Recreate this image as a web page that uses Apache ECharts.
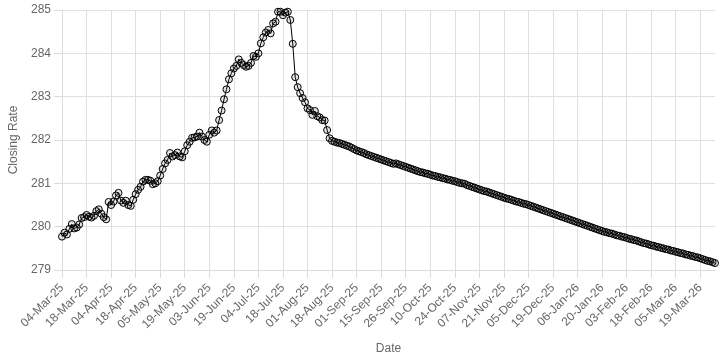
<!DOCTYPE html>
<html>
<head>
<meta charset="utf-8">
<script src="https://cdn.jsdelivr.net/npm/echarts@6/dist/echarts.min.js"></script>
<style>
html,body{margin:0;padding:0;background:#fff;}
#chart{width:720px;height:360px;}
</style>
</head>
<body>
<div id="chart"></div>
<script>
const dates = [
"04-Mar-25","05-Mar-25","06-Mar-25","07-Mar-25","10-Mar-25","11-Mar-25","12-Mar-25","13-Mar-25","14-Mar-25","17-Mar-25",
"18-Mar-25","19-Mar-25","20-Mar-25","21-Mar-25","24-Mar-25","25-Mar-25","26-Mar-25","27-Mar-25","28-Mar-25","03-Apr-25",
"04-Apr-25","07-Apr-25","08-Apr-25","09-Apr-25","10-Apr-25","11-Apr-25","14-Apr-25","15-Apr-25","16-Apr-25","17-Apr-25",
"18-Apr-25","21-Apr-25","22-Apr-25","23-Apr-25","24-Apr-25","25-Apr-25","28-Apr-25","29-Apr-25","30-Apr-25","02-May-25",
"05-May-25","06-May-25","07-May-25","08-May-25","09-May-25","12-May-25","13-May-25","14-May-25","15-May-25","16-May-25",
"19-May-25","20-May-25","21-May-25","22-May-25","23-May-25","26-May-25","27-May-25","29-May-25","30-May-25","02-Jun-25",
"03-Jun-25","04-Jun-25","05-Jun-25","10-Jun-25","11-Jun-25","12-Jun-25","13-Jun-25","16-Jun-25","17-Jun-25","18-Jun-25",
"19-Jun-25","20-Jun-25","23-Jun-25","24-Jun-25","25-Jun-25","26-Jun-25","27-Jun-25","30-Jun-25","02-Jul-25","03-Jul-25",
"04-Jul-25","07-Jul-25","08-Jul-25","09-Jul-25","10-Jul-25","11-Jul-25","14-Jul-25","15-Jul-25","16-Jul-25","17-Jul-25",
"18-Jul-25","21-Jul-25","22-Jul-25","23-Jul-25","24-Jul-25","25-Jul-25","28-Jul-25","29-Jul-25","30-Jul-25","31-Jul-25",
"01-Aug-25","04-Aug-25","05-Aug-25","06-Aug-25","07-Aug-25","08-Aug-25","11-Aug-25","12-Aug-25","13-Aug-25","15-Aug-25",
"18-Aug-25","19-Aug-25","20-Aug-25","21-Aug-25","22-Aug-25","25-Aug-25","26-Aug-25","27-Aug-25","28-Aug-25","29-Aug-25",
"01-Sep-25","02-Sep-25","03-Sep-25","04-Sep-25","05-Sep-25","08-Sep-25","09-Sep-25","10-Sep-25","11-Sep-25","12-Sep-25",
"15-Sep-25","16-Sep-25","17-Sep-25","18-Sep-25","19-Sep-25","20-Sep-25","22-Sep-25","23-Sep-25","24-Sep-25","25-Sep-25",
"26-Sep-25","29-Sep-25","30-Sep-25","01-Oct-25","02-Oct-25","03-Oct-25","06-Oct-25","07-Oct-25","08-Oct-25","09-Oct-25",
"10-Oct-25","13-Oct-25","14-Oct-25","15-Oct-25","16-Oct-25","17-Oct-25","20-Oct-25","21-Oct-25","22-Oct-25","23-Oct-25",
"24-Oct-25","27-Oct-25","28-Oct-25","29-Oct-25","30-Oct-25","31-Oct-25","03-Nov-25","04-Nov-25","05-Nov-25","06-Nov-25",
"07-Nov-25","10-Nov-25","11-Nov-25","12-Nov-25","13-Nov-25","14-Nov-25","17-Nov-25","18-Nov-25","19-Nov-25","20-Nov-25",
"21-Nov-25","24-Nov-25","25-Nov-25","26-Nov-25","27-Nov-25","28-Nov-25","01-Dec-25","02-Dec-25","03-Dec-25","04-Dec-25",
"05-Dec-25","08-Dec-25","09-Dec-25","10-Dec-25","11-Dec-25","12-Dec-25","15-Dec-25","16-Dec-25","17-Dec-25","18-Dec-25",
"19-Dec-25","22-Dec-25","23-Dec-25","24-Dec-25","26-Dec-25","29-Dec-25","30-Dec-25","31-Dec-25","02-Jan-26","05-Jan-26",
"06-Jan-26","07-Jan-26","08-Jan-26","09-Jan-26","12-Jan-26","13-Jan-26","14-Jan-26","15-Jan-26","16-Jan-26","19-Jan-26",
"20-Jan-26","21-Jan-26","22-Jan-26","23-Jan-26","26-Jan-26","27-Jan-26","28-Jan-26","29-Jan-26","30-Jan-26","02-Feb-26",
"03-Feb-26","04-Feb-26","06-Feb-26","09-Feb-26","10-Feb-26","11-Feb-26","12-Feb-26","13-Feb-26","16-Feb-26","17-Feb-26",
"18-Feb-26","19-Feb-26","20-Feb-26","23-Feb-26","24-Feb-26","25-Feb-26","26-Feb-26","02-Mar-26","03-Mar-26","04-Mar-26",
"05-Mar-26","06-Mar-26","09-Mar-26","10-Mar-26","11-Mar-26","12-Mar-26","13-Mar-26","16-Mar-26","17-Mar-26","18-Mar-26",
"19-Mar-26","20-Mar-26","24-Mar-26","25-Mar-26","26-Mar-26","27-Mar-26","30-Mar-26"
];

const closingRate = [
279.77,279.86,279.82,279.95,280.06,279.96,279.98,280.05,280.20,280.22,
280.27,280.23,280.21,280.25,280.36,280.40,280.30,280.22,280.17,280.57,
280.50,280.58,280.72,280.78,280.60,280.55,280.60,280.50,280.48,280.62,
280.75,280.85,280.92,281.04,281.08,281.08,281.06,280.98,281.00,281.05,
281.18,281.33,281.46,281.54,281.70,281.62,281.65,281.71,281.62,281.60,
281.74,281.88,281.96,282.05,282.06,282.08,282.17,282.08,282.00,281.96,
282.12,282.22,282.17,282.22,282.46,282.68,282.94,283.17,283.40,283.54,
283.65,283.71,283.86,283.78,283.73,283.69,283.71,283.78,283.94,283.92,
284.00,284.23,284.37,284.48,284.54,284.46,284.69,284.73,284.96,284.96,
284.88,284.94,284.96,284.77,284.22,283.45,283.22,283.08,282.97,282.87,
282.73,282.69,282.58,282.67,282.55,282.52,282.46,282.45,282.23,282.04,
281.98,281.96,281.94,281.93,281.91,281.89,281.87,281.85,281.82,281.79,
281.76,281.74,281.72,281.70,281.67,281.65,281.63,281.61,281.59,281.57,
281.55,281.53,281.51,281.49,281.47,281.45,281.46,281.44,281.42,281.40,
281.38,281.36,281.34,281.32,281.30,281.28,281.26,281.25,281.23,281.22,
281.20,281.18,281.17,281.15,281.14,281.12,281.11,281.09,281.08,281.06,
281.05,281.03,281.01,281.00,280.99,280.96,280.94,280.92,280.90,280.88,
280.86,280.84,280.82,280.81,280.79,280.77,280.75,280.73,280.71,280.69,
280.67,280.65,280.64,280.62,280.60,280.58,280.57,280.55,280.53,280.52,
280.50,280.48,280.46,280.44,280.42,280.40,280.38,280.36,280.34,280.32,
280.30,280.28,280.26,280.24,280.22,280.20,280.18,280.16,280.14,280.12,
280.10,280.08,280.06,280.04,280.02,280.00,279.98,279.96,279.94,279.92,
279.90,279.88,279.87,279.85,279.84,279.82,279.80,279.79,279.77,279.76,
279.74,279.72,279.71,279.69,279.68,279.66,279.64,279.62,279.61,279.59,
279.57,279.56,279.54,279.53,279.51,279.50,279.48,279.47,279.45,279.44,
279.42,279.41,279.39,279.38,279.36,279.35,279.33,279.32,279.30,279.29,
279.27,279.25,279.23,279.21,279.20,279.18,279.16
];

const yMin = 279, yMax = 285, yStep = 1;
const labelEvery = 10;

const chart = echarts.init(document.getElementById('chart'), null, {renderer: 'canvas'});
const fontFam = '"Liberation Sans", Arial, Helvetica, sans-serif';
chart.setOption({
  animation: false,
  backgroundColor: '#ffffff',
  grid: {left: 56, right: 5, top: 10, bottom: 90, containLabel: false},
  xAxis: {
    type: 'category',
    data: dates,
    boundaryGap: false,
    name: 'Date',
    nameLocation: 'middle',
    nameGap: 73,
    nameTextStyle: {color: '#666', fontSize: 12, fontFamily: fontFam},
    axisLine: {show: true, lineStyle: {color: '#dcdcdc'}},
    axisTick: {show: true, length: 8, interval: labelEvery - 1, lineStyle: {color: '#dcdcdc'}},
    axisLabel: {interval: labelEvery - 1, rotate: 45, color: '#666', fontSize: 12, fontFamily: fontFam, margin: 16},
    splitLine: {show: true, interval: labelEvery - 1, lineStyle: {color: '#e0e0e0', width: 1}}
  },
  yAxis: {
    type: 'value',
    min: yMin, max: yMax, interval: yStep,
    name: 'Closing Rate',
    nameLocation: 'middle',
    nameGap: 42,
    nameTextStyle: {color: '#666', fontSize: 12, fontFamily: fontFam},
    axisLine: {show: true, lineStyle: {color: '#dcdcdc'}},
    axisTick: {show: true, length: 8, lineStyle: {color: '#dcdcdc'}},
    axisLabel: {color: '#666', fontSize: 12, fontFamily: fontFam, margin: 11},
    splitLine: {show: true, lineStyle: {color: '#e0e0e0', width: 1}}
  },
  series: [{
    type: 'line',
    data: closingRate,
    symbol: 'circle',
    symbolSize: 7,
    showAllSymbol: true,
    clip: false,
    lineStyle: {color: '#000', width: 1},
    itemStyle: {color: 'rgba(0,0,0,0.1)', borderColor: '#000', borderWidth: 1}
  }]
});
</script>
</body>
</html>
